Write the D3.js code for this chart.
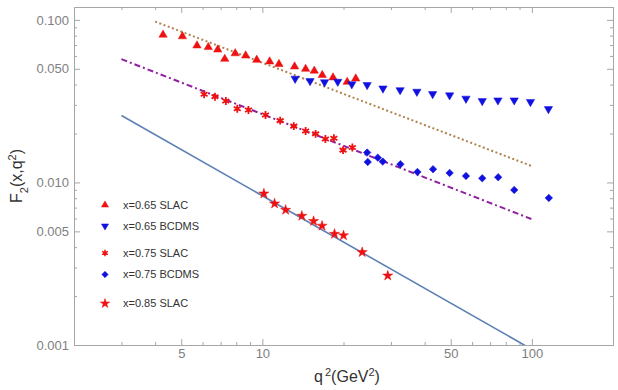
<!DOCTYPE html>
<html>
<head>
<meta charset="utf-8">
<script src="https://cdn.jsdelivr.net/npm/d3@7"></script>
<style>
  body { margin: 0; background: #fff; }
  .chart svg { display: block; font-family: "Liberation Sans", Arial, sans-serif; }
</style>
</head>
<body>
<div class="chart"></div>
<script>
// x = 0.65 SLAC (triangles)
const q2_065_slac = [4.28, 5.05, 5.72, 6.30, 6.83, 7.25, 7.93, 8.67, 9.53, 10.64, 11.52, 13.17, 14.47, 15.58, 16.68, 18.29, 20.64, 22.20];
const f2_065_slac = [0.0809, 0.0791, 0.0695, 0.0679, 0.0656, 0.0575, 0.0622, 0.0603, 0.0567, 0.0554, 0.0534, 0.0516, 0.0499, 0.0486, 0.0457, 0.0442, 0.0415, 0.0435];
// x = 0.65 BCDMS (down triangles)
const q2_065_bcdms = [13.23, 15.03, 17.01, 19.04, 21.47, 24.48, 28.02, 32.44, 37.44, 42.84, 49.52, 56.95, 65.45, 74.83, 86.0, 98.8, 115.2];
const f2_065_bcdms = [0.0435, 0.0421, 0.0414, 0.0417, 0.0402, 0.0398, 0.0379, 0.0370, 0.0362, 0.0350, 0.0344, 0.0328, 0.0317, 0.0320, 0.0320, 0.0313, 0.0283];
// x = 0.75 SLAC (asterisks)
const q2_075_slac = [6.08, 6.67, 7.32, 8.07, 8.88, 10.27, 11.64, 13.08, 14.47, 15.76, 17.13, 18.42, 19.92, 21.57];
const f2_075_slac = [0.0349, 0.0337, 0.0317, 0.0284, 0.0279, 0.0260, 0.0240, 0.0222, 0.0207, 0.0199, 0.0185, 0.0187, 0.0158, 0.0164];
// x = 0.75 BCDMS (diamonds)
const q2_075_bcdms = [24.48, 24.60, 26.80, 27.97, 32.52, 37.61, 42.98, 49.52, 56.95, 65.45, 75.0, 86.0, 115.6];
const f2_075_bcdms = [0.01526, 0.01337, 0.01421, 0.01343, 0.01294, 0.01160, 0.01206, 0.01144, 0.01096, 0.01061, 0.01076, 0.00899, 0.00803];
// x = 0.85 SLAC (stars)
const q2_085_slac = [10.13, 11.10, 12.20, 14.01, 15.49, 16.65, 18.52, 20.00, 23.46, 29.19];
const f2_085_slac = [0.00853, 0.00741, 0.00677, 0.00622, 0.00578, 0.00541, 0.00482, 0.00472, 0.00372, 0.00267];

// fitted power-law curves (end points)
const fit_065 = [[4, 0.0976], [100, 0.0126]];
const fit_075 = [[3, 0.0573], [100, 0.00594]];
const fit_085 = [[3, 0.0258], [100, 0.00094]];

const xMajor = [5, 10, 50, 100];
const xMinor = [3, 4, 6, 7, 8, 9, 20, 30, 40, 60, 70, 80, 90, 200];
const yMajor = [0.001, 0.005, 0.01, 0.05, 0.1];
const yMinor = [0.002, 0.003, 0.004, 0.006, 0.007, 0.008, 0.009, 0.02, 0.03, 0.04, 0.06, 0.07, 0.08, 0.09];

const legendLabels = ["x=0.65 SLAC", "x=0.65 BCDMS", "x=0.75 SLAC", "x=0.75 BCDMS", "x=0.85 SLAC"];

const width = 618, height = 390;
const margin = ({top: 7, right: 5, bottom: 45, left: 74});

const svg = d3.select('.chart').append('svg')
    .attr("width", width)
    .attr("height", height);

const xScale = d3.scaleLog().domain([2, 200]).range([margin.left, width - margin.right]);
const yScale = d3.scaleLog().domain([0.001, 0.12]).range([height - margin.bottom, margin.top]);

const x0 = margin.left, x1 = width - margin.right;
const y0 = height - margin.bottom, y1 = margin.top;

const axisColor = "#a6a6a6", labelColor = "#808080";

function styleAxis(g) {
  g.selectAll("path, line").attr("stroke", axisColor);
  g.selectAll("text").attr("fill", labelColor).style("font-size", "13px");
}

// bottom
svg.append("g").attr("transform", `translate(0,${y0})`)
  .call(d3.axisBottom(xScale).tickValues(xMajor).tickFormat(d3.format("d")).tickSizeInner(-6).tickSizeOuter(0).tickPadding(4))
  .call(styleAxis);
svg.append("g").attr("transform", `translate(0,${y0})`)
  .call(d3.axisBottom(xScale).tickValues(xMinor).tickFormat("").tickSizeInner(-3).tickSizeOuter(0))
  .call(styleAxis);
// top
svg.append("g").attr("transform", `translate(0,${y1})`)
  .call(d3.axisTop(xScale).tickValues(xMajor).tickFormat("").tickSizeInner(-6).tickSizeOuter(0))
  .call(styleAxis);
svg.append("g").attr("transform", `translate(0,${y1})`)
  .call(d3.axisTop(xScale).tickValues(xMinor).tickFormat("").tickSizeInner(-3).tickSizeOuter(0))
  .call(styleAxis);
// left
svg.append("g").attr("transform", `translate(${x0},0)`)
  .call(d3.axisLeft(yScale).tickValues(yMajor).tickFormat(d3.format(".3f")).tickSizeInner(-6).tickSizeOuter(0).tickPadding(5))
  .call(styleAxis);
svg.append("g").attr("transform", `translate(${x0},0)`)
  .call(d3.axisLeft(yScale).tickValues(yMinor).tickFormat("").tickSizeInner(-3).tickSizeOuter(0))
  .call(styleAxis);
// right
svg.append("g").attr("transform", `translate(${x1},0)`)
  .call(d3.axisRight(yScale).tickValues(yMajor).tickFormat("").tickSizeInner(-6).tickSizeOuter(0))
  .call(styleAxis);
svg.append("g").attr("transform", `translate(${x1},0)`)
  .call(d3.axisRight(yScale).tickValues(yMinor).tickFormat("").tickSizeInner(-3).tickSizeOuter(0))
  .call(styleAxis);

svg.append("defs").append("clipPath").attr("id", "plotclip")
  .append("rect").attr("x", x0).attr("y", y1).attr("width", x1 - x0).attr("height", y0 - y1);

const line = d3.line().x(d => xScale(d[0])).y(d => yScale(d[1]));
const lines = svg.append("g").attr("clip-path", "url(#plotclip)");

lines.append("path").datum(fit_085).attr("d", line)
  .attr("fill", "none").attr("stroke", "#5e81b5").attr("stroke-width", 1.6);
lines.append("path").datum(fit_075).attr("d", line)
  .attr("fill", "none").attr("stroke", "#9020a0").attr("stroke-width", 2)
  .attr("stroke-dasharray", "6,3,2,3");
lines.append("path").datum(fit_065).attr("d", line)
  .attr("fill", "none").attr("stroke", "#b0824e").attr("stroke-width", 2)
  .attr("stroke-dasharray", "2,2.5");

const red = "#ee1111", blue = "#1010e0";

function drawSeries(xs, ys, symbolType, size, color, rotate, stroked) {
  const pts = xs.map((q, i) => ({q: q, f: ys[i]}));
  const sym = d3.symbol().type(symbolType).size(size);
  svg.append("g").selectAll("path")
    .data(pts)
    .enter()
    .append("path")
    .attr("d", sym)
    .attr("transform", d => `translate(${xScale(d.q)},${yScale(d.f)})` + (rotate ? ` rotate(${rotate})` : ""))
    .style("fill", stroked ? "none" : color)
    .style("stroke", color)
    .style("stroke-width", stroked ? 1.8 : 0.5);
}

const asterisk = d3.symbolAsterisk || d3.symbolCross;

drawSeries(q2_065_slac, f2_065_slac, d3.symbolTriangle, 30, red, 0, false);
drawSeries(q2_065_bcdms, f2_065_bcdms, d3.symbolTriangle, 30, blue, 180, false);
drawSeries(q2_075_slac, f2_075_slac, asterisk, 44, red, 0, true);
drawSeries(q2_075_bcdms, f2_075_bcdms, d3.symbolSquare, 28, blue, 45, false);
drawSeries(q2_085_slac, f2_085_slac, d3.symbolStar, 32, red, 0, false);

// legend
const legendSymbols = [
  {type: d3.symbolTriangle, size: 22, color: red, rotate: 0, stroked: false},
  {type: d3.symbolTriangle, size: 22, color: blue, rotate: 180, stroked: false},
  {type: asterisk, size: 30, color: red, rotate: 0, stroked: true},
  {type: d3.symbolSquare, size: 20, color: blue, rotate: 45, stroked: false},
  {type: d3.symbolStar, size: 28, color: red, rotate: 0, stroked: false}
];
const legendY = [205, 226, 253, 274.5, 303.5];

const legend = svg.append("g");
legend.selectAll("path")
  .data(legendSymbols)
  .enter()
  .append("path")
  .attr("d", d => d3.symbol().type(d.type).size(d.size)())
  .attr("transform", (d, i) => `translate(105,${legendY[i]})` + (d.rotate ? ` rotate(${d.rotate})` : ""))
  .style("fill", d => d.stroked ? "none" : d.color)
  .style("stroke", d => d.color)
  .style("stroke-width", d => d.stroked ? 1.5 : 0.5);

legend.selectAll("text")
  .data(legendLabels)
  .enter()
  .append("text")
  .attr("x", 123)
  .attr("y", (d, i) => legendY[i])
  .attr("dy", "0.35em")
  .attr("font-size", 11)
  .attr("fill", "#333")
  .text(d => d);

// axis titles
const yTitle = svg.append("text")
  .attr("transform", "translate(22,176) rotate(-90)")
  .attr("text-anchor", "middle")
  .attr("font-size", 16)
  .attr("fill", "#333");
yTitle.append("tspan").text("F");
yTitle.append("tspan").attr("font-size", 11).attr("baseline-shift", "sub").text("2");
yTitle.append("tspan").text("(x,q");
yTitle.append("tspan").attr("font-size", 11).attr("baseline-shift", "super").text("2");
yTitle.append("tspan").text(")");

const xTitle = svg.append("text")
  .attr("x", 347)
  .attr("y", 382)
  .attr("text-anchor", "middle")
  .attr("font-size", 16)
  .attr("fill", "#333");
xTitle.append("tspan").text("q");
xTitle.append("tspan").attr("font-size", 11).attr("baseline-shift", "super").attr("dx", 2).text("2");
xTitle.append("tspan").text("(GeV");
xTitle.append("tspan").attr("font-size", 11).attr("baseline-shift", "super").text("2");
xTitle.append("tspan").text(")");
</script>
</body>
</html>
